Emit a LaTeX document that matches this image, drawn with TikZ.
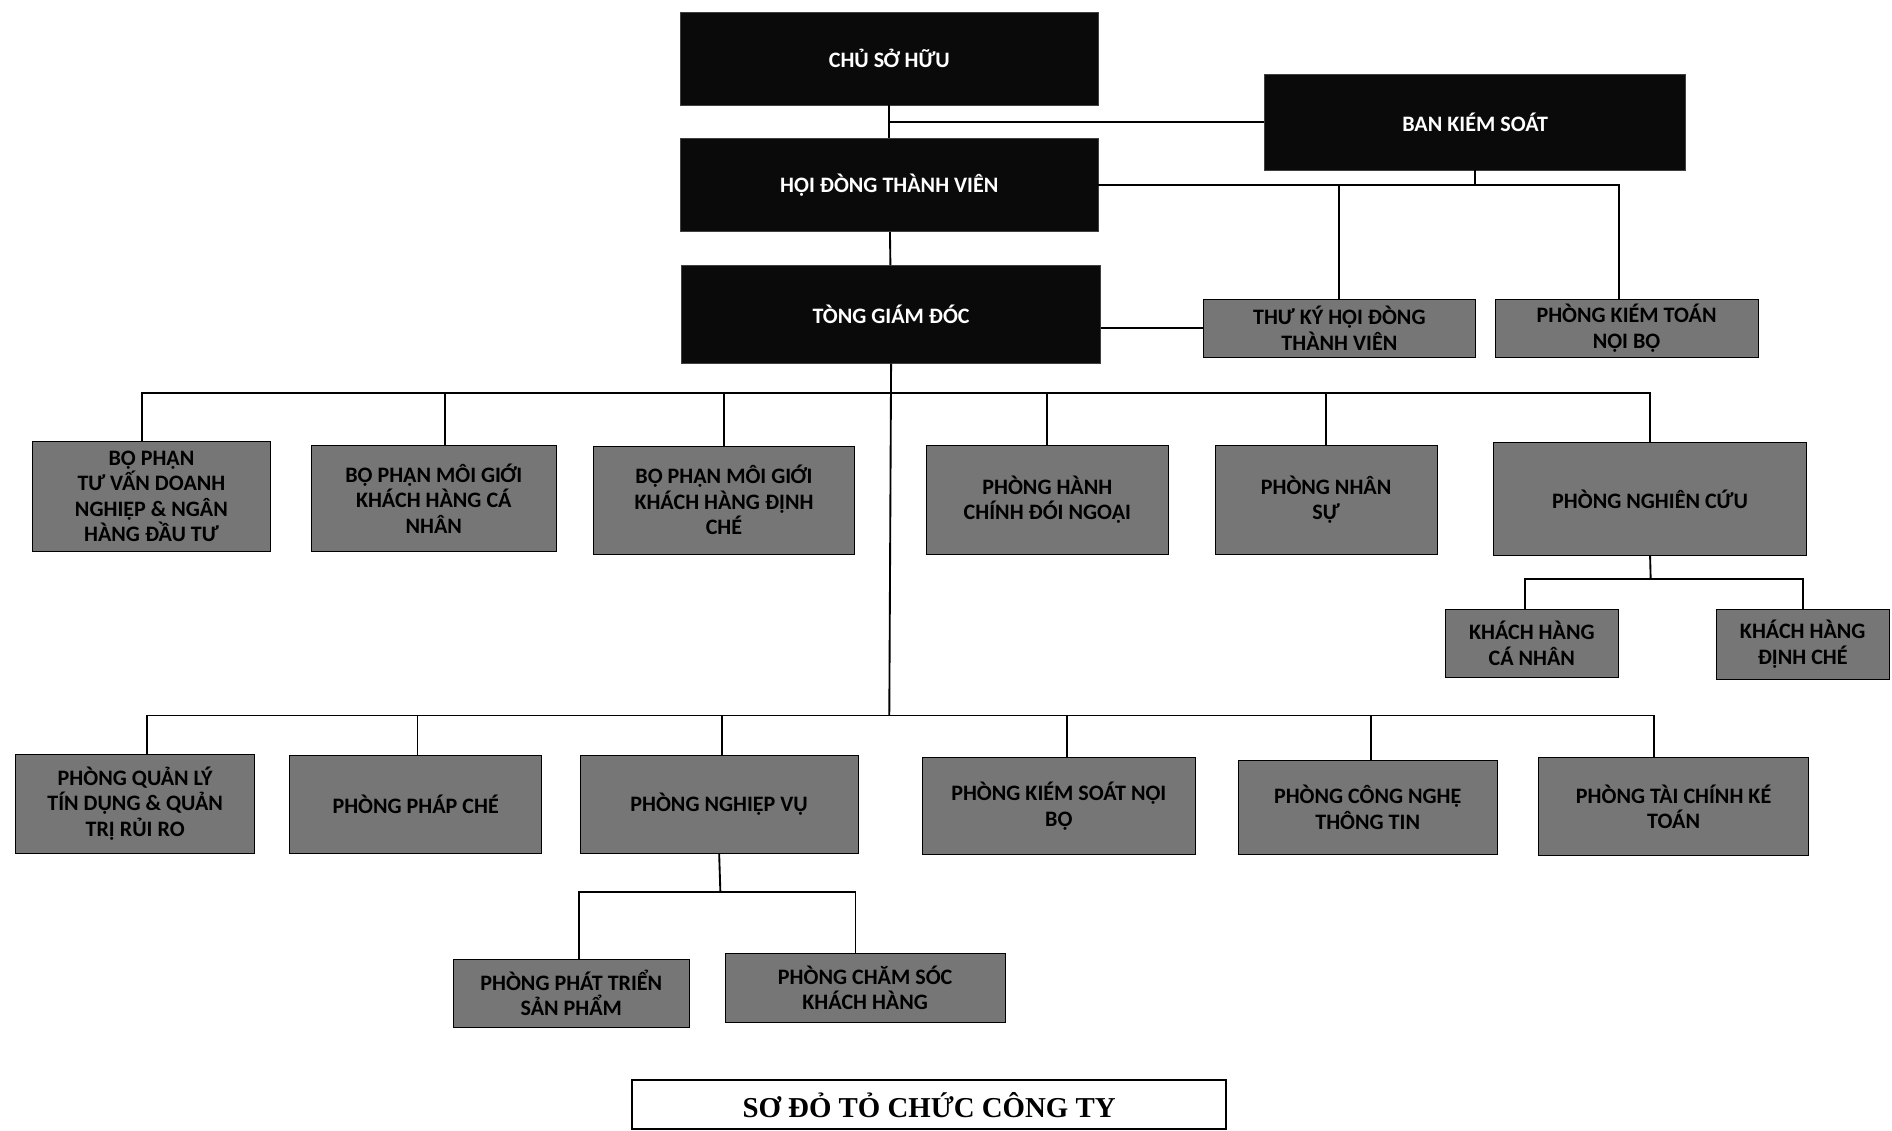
\documentclass[tikz,border=0pt]{standalone}
\usepackage{fontspec}
\setmainfont{Carlito}
\newfontfamily\titlefont{Liberation Serif}
\usetikzlibrary{positioning}
\definecolor{boxgray}{HTML}{767676}
\definecolor{boxblack}{HTML}{0A0A0A}
\tikzset{line width=1pt,
  every node/.style={font=\bfseries\fontsize{13}{15}\selectfont,align=center,inner sep=2pt},
  sz/.style 2 args={minimum width=#1*0.025cm,minimum height=#2*0.025cm},
  headbox/.style={fill=boxblack,draw=black!75,text=white},
  unitbox/.style={fill=boxgray,draw=black,text=black},
  titlebox/.style={fill=white,draw=black,line width=1.2pt,font=\titlefont\bfseries\fontsize{17}{20}\selectfont},
  link/.style={draw=black,line width=1.1pt}}
\begin{document}
\begin{tikzpicture}[x=0.025cm,y=-0.025cm]
\useasboundingbox(0,0)rectangle(1568,937);
% ban lanh dao
\node[headbox,sz={346}{77}](chu)at(737,48.5){CHỦ SỞ HỮU};
\node[headbox,sz={346}{77}](hdtv)at(737,153.5){HỘI ĐÒNG THÀNH VIÊN};
\node[headbox,sz={347}{81}](tgd)at(738.5,260.5){TÒNG GIÁM ĐÓC};
\node[headbox,sz={349}{79}](bks)at(1222.5,101.5){BAN KIÉM SOÁT};
\node[unitbox,sz={226}{48}](tky)at(1110,272){THƯ KÝ HỘI ĐÒNG\\THÀNH VIÊN};
\node[unitbox,sz={218}{48}](ktnb)at(1348,272){PHÒNG KIÉM TOÁN\\NỘI BỘ};
% khoi kinh doanh
\node[unitbox,sz={197}{91}](tvdn)at(125.5,411.5){BỘ PHẬN\\TƯ VẤN DOANH\\NGHIỆP \& NGÂN\\HÀNG ĐẦU TƯ};
\node[unitbox,sz={203}{88}](mgcn)at(359.5,413){BỘ PHẬN MÔI GIỚI\\KHÁCH HÀNG CÁ\\NHÂN};
\node[unitbox,sz={216}{89}](mgdc)at(600,414.5){BỘ PHẬN MÔI GIỚI\\KHÁCH HÀNG ĐỊNH\\CHÉ};
\node[unitbox,sz={200}{90}](hcdn)at(868,414){PHÒNG HÀNH\\CHÍNH ĐÓI NGOẠI};
\node[unitbox,sz={184}{90}](ns)at(1099,414){PHÒNG NHÂN\\SỰ};
\node[unitbox,sz={259}{93}](nc)at(1367.5,413.5){PHÒNG NGHIÊN CỨU};
\node[unitbox,sz={143}{56}](khcn)at(1269.5,533){KHÁCH HÀNG\\CÁ NHÂN};
\node[unitbox,sz={144}{58}](khdc)at(1494,534){KHÁCH HÀNG\\ĐỊNH CHÉ};
% khoi ho tro
\node[unitbox,sz={198}{82}](qltd)at(112,666){PHÒNG QUẢN LÝ\\TÍN DỤNG \& QUẢN\\TRỊ RỦI RO};
\node[unitbox,sz={209}{81}](pc)at(344.5,666.5){PHÒNG PHÁP CHÉ};
\node[unitbox,sz={230}{81}](nv)at(596,666.5){PHÒNG NGHIỆP VỤ};
\node[unitbox,sz={227}{80}](ksnb)at(877.5,668){PHÒNG KIÉM SOÁT NỘI\\BỘ};
\node[unitbox,sz={215}{78}](cntt)at(1133.5,669){PHÒNG CÔNG NGHỆ\\THÔNG TIN};
\node[unitbox,sz={224}{81}](tckt)at(1387,668.5){PHÒNG TÀI CHÍNH KÉ\\TOÁN};
\node[unitbox,sz={195}{56}](ptsp)at(473.5,823){PHÒNG PHÁT TRIỂN\\SẢN PHẨM};
\node[unitbox,sz={232}{57}](cskh)at(717,818.5){PHÒNG CHĂM SÓC\\KHÁCH HÀNG};
\node[titlebox,sz={492}{41}](title)at(770,915.5){SƠ ĐỎ TỎ CHỨC CÔNG TY};
% duong noi
\coordinate(jct)at(737,101);\coordinate(bus1)at(737,326);\coordinate(bus2)at(737,593);
\coordinate(bus3)at(1368,480);\coordinate(bus4)at(597,739);
\draw[link](chu)--(hdtv);\draw[link](jct)--(jct-|bks.west);
\draw[link](hdtv.east)-|(ktnb.north-|1342,0);\draw[link](bks.south)--(bks.south|-hdtv.east);
\draw[link](tky.north)--(tky.north|-hdtv.east);
\draw[link](hdtv)--(tgd);\draw[link](tgd.east|-tky.west)--(tky.west);
\draw[link](tgd.south)--(bus2);
\draw[link](tvdn.north-|118,0)|-(bus1)-|(nc.north);
\draw[link](mgcn.north-|369,0)--(bus1-|369,0);
\foreach\n in{mgdc,hcdn,ns}\draw[link](\n.north)--(\n.north|-bus1);
\draw[link](nc.south)--(bus3);\draw[link](khcn.north-|1264,0)|-(bus3)-|(khdc.north);
\draw[link](qltd.north-|122,0)|-(bus2)-|(tckt.north-|1371,0);
\foreach\n/\xx in{pc/346,nv/598,ksnb/884,cntt/1136}\draw[link](\n.north-|\xx,0)--(bus2-|\xx,0);
\draw[link](nv.south)--(bus4);\draw[link](ptsp.north-|480,0)|-(bus4)-|(cskh.north-|709,0);
\end{tikzpicture}
\end{document}
